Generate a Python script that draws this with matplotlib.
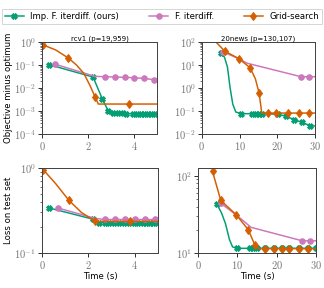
import numpy as np
import matplotlib
matplotlib.use("Agg")
import matplotlib.pyplot as plt
from matplotlib.ticker import FuncFormatter, NullFormatter, LogLocator

plt.rcParams['mathtext.fontset'] = 'cm'
plt.rcParams['font.family'] = 'DejaVu Sans'

GREEN = '#029e73'
PINK = '#cc78bc'
ORANGE = '#d55e00'

labels = ['Imp. F. iterdiff. (ours)', 'F. iterdiff.', 'Grid-search']

# rcv1, objective minus optimum
rcv1_obj_green_t = [0.29, 1.2, 2.22, 2.62, 2.88, 3.1, 3.3, 3.5, 3.65, 3.95, 4.15, 4.3, 4.45, 4.6, 4.75, 4.9]
rcv1_obj_green_y = [0.105, 0.058, 0.030, 0.0034, 0.001, 0.00082, 0.0008, 0.00078, 0.00076, 0.00075, 0.00074, 0.00073, 0.00073, 0.00072, 0.00072, 0.00072]
rcv1_obj_green_m = [0, 2, 3, 4, 5, 6, 7, 8, 9, 10, 11, 12, 13, 14, 15]
rcv1_obj_pink_t = [0.55, 2.3, 2.73, 3.17, 3.6, 4.0, 4.44, 4.87]
rcv1_obj_pink_y = [0.11, 0.032, 0.031, 0.030, 0.029, 0.028, 0.026, 0.023]
rcv1_obj_pink_m = [0, 2, 3, 4, 5, 6, 7]
rcv1_obj_orange_t = [0.05, 0.6, 1.15, 1.5, 1.82, 2.1, 2.3, 2.45, 3.8, 5.0]
rcv1_obj_orange_y = [0.75, 0.45, 0.2, 0.1, 0.043, 0.012, 0.0042, 0.002, 0.002, 0.002]
rcv1_obj_orange_m = [0, 2, 6, 8]

# 20news, objective minus optimum
news_obj_green_t = [4.97, 6.0, 6.8, 7.5, 8.2, 9.0, 10.5, 13.4, 14.3, 15.1, 15.9, 20.2, 22.4, 24.5, 26.5, 28.7, 30.0]
news_obj_green_y = [32, 22, 8, 1.0, 0.2, 0.09, 0.076, 0.076, 0.076, 0.076, 0.076, 0.072, 0.058, 0.042, 0.032, 0.023, 0.022]
news_obj_green_m = [0, 6, 7, 8, 9, 10, 11, 12, 13, 14, 15]
news_obj_pink_t = [5.6, 9.8, 12.0, 26.3, 28.5, 30.0]
news_obj_pink_y = [37, 19, 12, 3.1, 3.1, 3.1]
news_obj_pink_m = [0, 3, 4]
news_obj_orange_t = [3.5, 6.1, 9.8, 12.8, 14.2, 15.2, 15.9, 17.6, 19.8, 22.8, 25.9, 28.5, 30.0]
news_obj_orange_y = [110, 40, 19, 7.6, 2.5, 0.59, 0.081, 0.081, 0.081, 0.081, 0.081, 0.081, 0.081]
news_obj_orange_m = [1, 2, 3, 5, 7, 8, 9, 10, 11]

# rcv1, loss on test set
rcv1_loss_green_t = [0.29, 2.2, 2.45, 2.7, 2.9, 3.1, 3.3, 3.55, 3.75, 3.95, 4.15, 4.35, 4.5, 4.65, 4.8, 4.95]
rcv1_loss_green_y = [0.34, 0.25, 0.228, 0.226, 0.225, 0.225, 0.225, 0.225, 0.225, 0.225, 0.225, 0.225, 0.225, 0.225, 0.225, 0.225]
rcv1_loss_green_m = list(range(16))
rcv1_loss_pink_t = [0.67, 2.3, 2.71, 3.14, 3.57, 4.0, 4.43, 4.86]
rcv1_loss_pink_y = [0.34, 0.255, 0.248, 0.248, 0.248, 0.248, 0.248, 0.248]
rcv1_loss_pink_m = [0, 2, 3, 4, 5, 6, 7]
rcv1_loss_orange_t = [0.05, 0.6, 1.15, 1.7, 2.3, 3.8, 5.0]
rcv1_loss_orange_y = [0.96, 0.65, 0.42, 0.3, 0.235, 0.235, 0.235]
rcv1_loss_orange_m = [0, 2, 4, 5]

# 20news, loss on test set
news_loss_green_t = [4.8, 6.0, 7.0, 8.0, 8.8, 10.0, 13.3, 14.1, 15.0, 17.0, 19.4, 21.3, 23.2, 25.6, 28.1, 30.0]
news_loss_green_y = [43, 33, 24, 15, 12, 11.5, 11.5, 11.5, 11.5, 11.5, 11.5, 11.5, 11.5, 11.5, 11.5, 11.5]
news_loss_green_m = [0, 5, 6, 7, 8, 9, 10, 11, 12, 13, 14, 15]
news_loss_pink_t = [5.8, 9.8, 13.5, 26.5, 28.6, 30.0]
news_loss_pink_y = [44, 31, 21.5, 14.4, 14.4, 14.4]
news_loss_pink_m = [0, 3, 4]
news_loss_orange_t = [3.7, 5.8, 9.8, 12.8, 14.5, 15.5, 17.0, 19.4, 21.3, 23.2, 25.6, 28.1, 30.0]
news_loss_orange_y = [114, 48, 31, 20, 12.6, 11.4, 11.4, 11.4, 11.4, 11.4, 11.4, 11.4, 11.4]
news_loss_orange_m = [0, 1, 2, 3, 4, 6, 7, 8, 9, 10, 11]


def log_fmt(v, pos):
    return r'$10^{%d}$' % int(np.round(np.log10(v)))


def lin_fmt(v, pos):
    return r'$%d$' % int(np.round(v))


def draw(ax, series):
    styles = [(GREEN, 'X', 5.5), (PINK, 'o', 5.5), (ORANGE, 'd', 6)]
    for (t, y, m), (c, mk, ms), lab in zip(series, styles, labels):
        ax.semilogy(t, y, color=c, marker=mk, markersize=ms, markevery=m,
                    linewidth=1.5, label=lab)
    ax.yaxis.set_major_formatter(FuncFormatter(log_fmt))
    ax.yaxis.set_minor_locator(LogLocator(base=10, subs=np.arange(2, 10), numticks=20))
    ax.yaxis.set_minor_formatter(NullFormatter())
    ax.xaxis.set_major_formatter(FuncFormatter(lin_fmt))
    ax.tick_params(which='major', length=4, width=1, color='#333333',
                   labelsize=10.5, labelcolor='#777777', pad=2)
    ax.tick_params(which='minor', length=2, width=0.7, color='#333333')
    for s in ax.spines.values():
        s.set_color('#444444')
        s.set_linewidth(1.0)


fig = plt.figure(figsize=(4.5, 4.0), dpi=72)
ax1 = fig.add_axes([0.1296, 0.535, 0.355, 0.319])
ax2 = fig.add_axes([0.623, 0.535, 0.349, 0.319])
ax3 = fig.add_axes([0.1296, 0.1215, 0.358, 0.295])
ax4 = fig.add_axes([0.611, 0.1215, 0.364, 0.295])

draw(ax1, [(rcv1_obj_green_t, rcv1_obj_green_y, rcv1_obj_green_m),
           (rcv1_obj_pink_t, rcv1_obj_pink_y, rcv1_obj_pink_m),
           (rcv1_obj_orange_t, rcv1_obj_orange_y, rcv1_obj_orange_m)])
ax1.set_xlim(0, 5)
ax1.set_ylim(1e-4, 1e0)
ax1.set_xticks([0, 2, 4])
ax1.set_title('rcv1 (p=19,959)', fontsize=7, pad=2)
ax1.set_ylabel('Objective minus optimum', fontsize=8.5, labelpad=1)

draw(ax2, [(news_obj_green_t, news_obj_green_y, news_obj_green_m),
           (news_obj_pink_t, news_obj_pink_y, news_obj_pink_m),
           (news_obj_orange_t, news_obj_orange_y, news_obj_orange_m)])
ax2.set_xlim(0, 30)
ax2.set_ylim(1e-2, 1e2)
ax2.set_xticks([0, 10, 20, 30])
ax2.set_title('20news (p=130,107)', fontsize=7, pad=2)

draw(ax3, [(rcv1_loss_green_t, rcv1_loss_green_y, rcv1_loss_green_m),
           (rcv1_loss_pink_t, rcv1_loss_pink_y, rcv1_loss_pink_m),
           (rcv1_loss_orange_t, rcv1_loss_orange_y, rcv1_loss_orange_m)])
ax3.set_xlim(0, 5)
ax3.set_ylim(1e-1, 1e0)
ax3.set_xticks([0, 2, 4])
ax3.set_ylabel('Loss on test set', fontsize=8.5, labelpad=1)
ax3.set_xlabel('Time (s)', fontsize=8.5, labelpad=1)

draw(ax4, [(news_loss_green_t, news_loss_green_y, news_loss_green_m),
           (news_loss_pink_t, news_loss_pink_y, news_loss_pink_m),
           (news_loss_orange_t, news_loss_orange_y, news_loss_orange_m)])
ax4.set_xlim(0, 30)
ax4.set_ylim(10, 126)
ax4.set_xticks([0, 10, 20, 30])
ax4.set_xlabel('Time (s)', fontsize=8.5, labelpad=1)

handles, labs = ax1.get_legend_handles_labels()
fig.legend(handles, labs, loc='lower left', ncol=3, mode='expand',
           bbox_to_anchor=(0.006, 0.917, 0.988, 0.066), fontsize=8.5,
           frameon=True, fancybox=False, edgecolor='#cccccc',
           handlelength=2.2, borderaxespad=0.0, borderpad=0.35)

fig.savefig('out.png', dpi=72)
